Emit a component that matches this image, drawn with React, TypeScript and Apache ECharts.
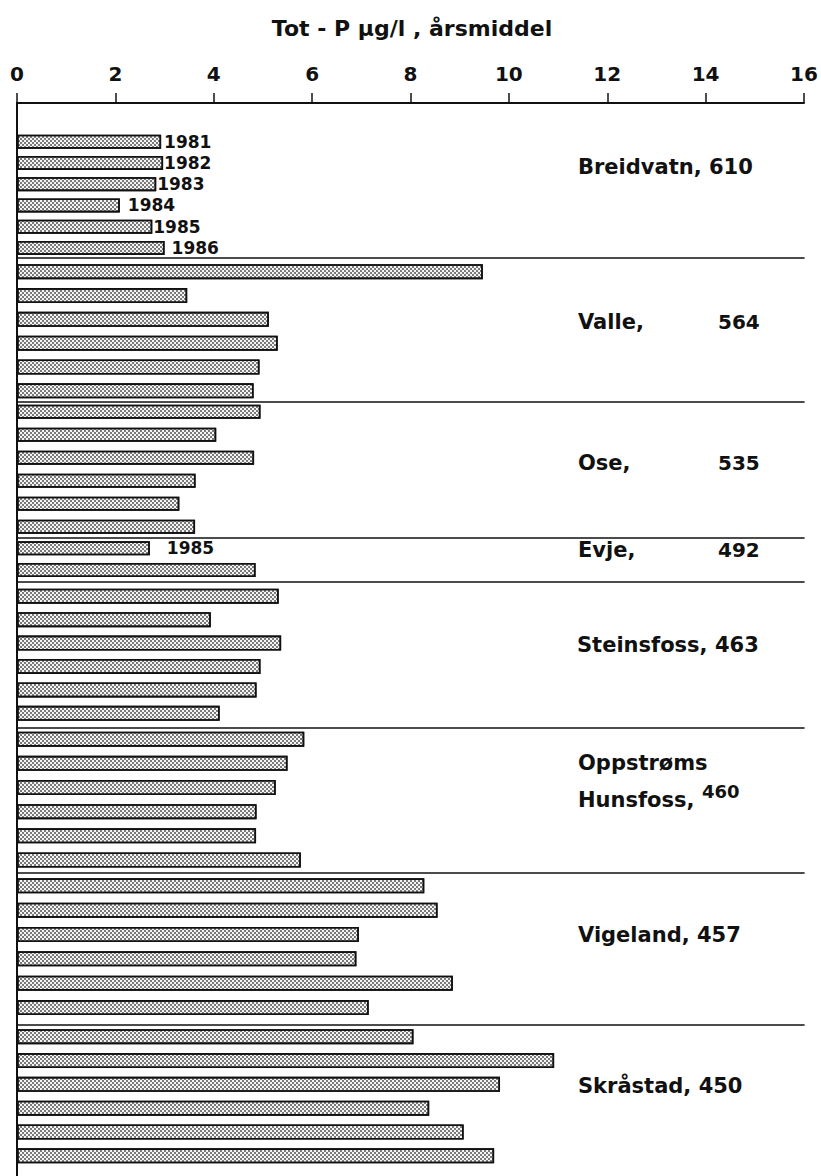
import React, { useEffect, useRef } from "react";
import * as echarts from "echarts";

// ---- data ----
const years = ["1981", "1982", "1983", "1984", "1985", "1986"];
const evjeYears = ["1985", "1986"];
const xTicks = [0, 2, 4, 6, 8, 10, 12, 14, 16];
const title = "Tot - P µg/l , årsmiddel";

const groupNames = ["Breidvatn", "Valle", "Ose", "Evje", "Steinsfoss", "Oppstrøms Hunsfoss", "Vigeland", "Skråstad"];
const groupAltitudes = ["610", "564", "535", "492", "463", "460", "457", "450"];

const breidvatn = [2.93, 2.97, 2.83, 2.09, 2.75, 3.0];
const valle = [9.47, 3.46, 5.12, 5.3, 4.93, 4.81];
const ose = [4.95, 4.05, 4.82, 3.63, 3.3, 3.62];
const evje = [2.7, 4.85];
const steinsfoss = [5.32, 3.94, 5.37, 4.95, 4.87, 4.12];
const hunsfoss = [5.84, 5.5, 5.26, 4.87, 4.86, 5.77];
const vigeland = [8.28, 8.55, 6.95, 6.9, 8.86, 7.15];
const skrastad = [8.06, 10.92, 9.82, 8.38, 9.08, 9.7];

const groupValues = [breidvatn, valle, ose, evje, steinsfoss, hunsfoss, vigeland, skrastad];
const groupYears = [years, years, years, evjeYears, years, years, years, years];

// ---- layout (positions / sizes only) ----
const W = 821;
const H = 1176;
const GL = 17;
const GR = 17;
const axisTop = 103;
const groupLayout = [
  { top: 131, bottom: 258.6, sep: 258, barWidth: 14 },
  { top: 259.8, bottom: 402.7, sep: 402, barWidth: 15 },
  { top: 400.2, bottom: 538.2, sep: 538, barWidth: 14 },
  { top: 537.5, bottom: 580.8, sep: 582, barWidth: 14 },
  { top: 584.5, bottom: 725, sep: 728, barWidth: 15 },
  { top: 727.1, bottom: 872.1, sep: 873, barWidth: 15 },
  { top: 873.6, bottom: 1019.7, sep: 1025, barWidth: 15 },
  { top: 1024.8, bottom: 1167.7, sep: null as number | null, barWidth: 15 },
];
// year label gaps for labelled bars (group index -> per-bar distance, null = no label)
const yearLabelGap: (number | null)[][] = [
  [3, 1, 1, 8, 1, 7],
  [],
  [],
  [17, null],
  [],
  [],
  [],
  [],
];
// group label placement
const labelLayout = [
  { mode: "joined", x: 578, y: 167 },
  { mode: "split", x: 578, y: 322, numX: 718, numY: 322 },
  { mode: "split", x: 578, y: 463, numX: 718, numY: 463 },
  { mode: "split", x: 578, y: 550, numX: 718, numY: 550 },
  { mode: "joined", x: 577, y: 645 },
  { mode: "twoLine", x: 578, y: 763, y2: 800, numX: 702, numY: 791 },
  { mode: "joined", x: 578, y: 935 },
  { mode: "joined", x: 578, y: 1086 },
];

const FONT = "'DejaVu Sans', sans-serif";
const INK = "#111";

function textEl(text: string, x: number, y: number, size: number) {
  return {
    type: "text",
    x,
    y,
    style: {
      text,
      fontFamily: FONT,
      fontWeight: "bold",
      fontSize: size,
      fill: INK,
      textAlign: "left",
      textVerticalAlign: "middle",
      align: "left",
      verticalAlign: "middle",
    },
  };
}

export default function App() {
  const ref = useRef<HTMLDivElement>(null);

  useEffect(() => {
    if (!ref.current) return;
    const chart = echarts.init(ref.current, undefined, { renderer: "svg" });

    const grids: any[] = [{ left: GL, right: GR, top: axisTop, bottom: 0 }];
    const xAxes: any[] = [
      {
        gridIndex: 0,
        type: "value",
        position: "top",
        min: xTicks[0],
        max: xTicks[xTicks.length - 1],
        interval: xTicks[1] - xTicks[0],
        axisLine: { show: true, onZero: false, lineStyle: { color: INK, width: 2 } },
        axisTick: { show: true, length: 10, lineStyle: { color: INK, width: 1.5 } },
        axisLabel: {
          show: true,
          margin: 19,
          color: INK,
          fontFamily: FONT,
          fontWeight: "bold",
          fontSize: 20,
        },
        splitLine: { show: false },
      },
    ];
    const yAxes: any[] = [
      {
        gridIndex: 0,
        type: "value",
        min: 0,
        max: 1,
        axisLine: { show: true, onZero: false, lineStyle: { color: INK, width: 2 } },
        axisTick: { show: false },
        axisLabel: { show: false },
        splitLine: { show: false },
      },
    ];
    const series: any[] = [];

    groupLayout.forEach((g, i) => {
      const gi = i + 1;
      grids.push({ left: GL, right: GR, top: g.top, height: g.bottom - g.top });
      xAxes.push({
        gridIndex: gi,
        type: "value",
        position: "bottom",
        min: xTicks[0],
        max: xTicks[xTicks.length - 1],
        offset: g.sep == null ? 0 : g.sep - g.bottom,
        axisLine: { show: g.sep != null, onZero: false, lineStyle: { color: INK, width: 1.6 } },
        axisTick: { show: false },
        axisLabel: { show: false },
        splitLine: { show: false },
      });
      yAxes.push({
        gridIndex: gi,
        type: "category",
        inverse: true,
        data: groupYears[i],
        axisLine: { show: false },
        axisTick: { show: false },
        axisLabel: { show: false },
        splitLine: { show: false },
      });
      const gaps = yearLabelGap[i];
      series.push({
        type: "bar",
        xAxisIndex: gi,
        yAxisIndex: gi,
        barWidth: g.barWidth,
        itemStyle: {
          color: "#f4f4f4",
          borderColor: INK,
          borderWidth: 1.6,
          decal: {
            symbol: "rect",
            symbolSize: 1,
            color: "rgba(40,40,40,0.6)",
            dashArrayX: [[1.5, 1.5], [0, 1.5, 1.5, 0]],
            dashArrayY: [1.5, 0],
            rotation: 0,
          },
        },
        data: groupValues[i].map((v, k) => {
          const gap = gaps[k];
          if (gap == null) return { value: v, label: { show: false } };
          return {
            value: v,
            label: {
              show: true,
              position: "right",
              distance: gap,
              formatter: "{b}",
              color: INK,
              fontFamily: FONT,
              fontWeight: "bold",
              fontSize: 17,
            },
          };
        }),
      });
    });

    const graphics: any[] = [];
    graphics.push({
      type: "text",
      x: 412,
      y: 28,
      style: {
        text: title,
        fontFamily: FONT,
        fontWeight: "bold",
        fontSize: 22,
        fill: INK,
        textAlign: "center",
        textVerticalAlign: "middle",
        align: "center",
        verticalAlign: "middle",
      },
    });
    labelLayout.forEach((l: any, i) => {
      const name = groupNames[i];
      const alt = groupAltitudes[i];
      if (l.mode === "joined") {
        graphics.push(textEl(`${name}, ${alt}`, l.x, l.y, 21));
      } else if (l.mode === "split") {
        graphics.push(textEl(`${name},`, l.x, l.y, 21));
        graphics.push(textEl(alt, l.numX, l.numY, 20));
      } else {
        const parts = name.split(" ");
        graphics.push(textEl(parts[0], l.x, l.y, 21));
        graphics.push(textEl(`${parts[1]},`, l.x, l.y2, 21));
        graphics.push(textEl(alt, l.numX, l.numY, 18));
      }
    });

    chart.setOption({
      animation: false,
      backgroundColor: "#ffffff",
      grid: grids,
      xAxis: xAxes,
      yAxis: yAxes,
      series,
      graphic: graphics,
    });

    return () => chart.dispose();
  }, []);

  return (
    <div
      ref={ref}
      style={{ position: "absolute", left: 0, top: 0, width: W, height: H, background: "#fff" }}
    />
  );
}
